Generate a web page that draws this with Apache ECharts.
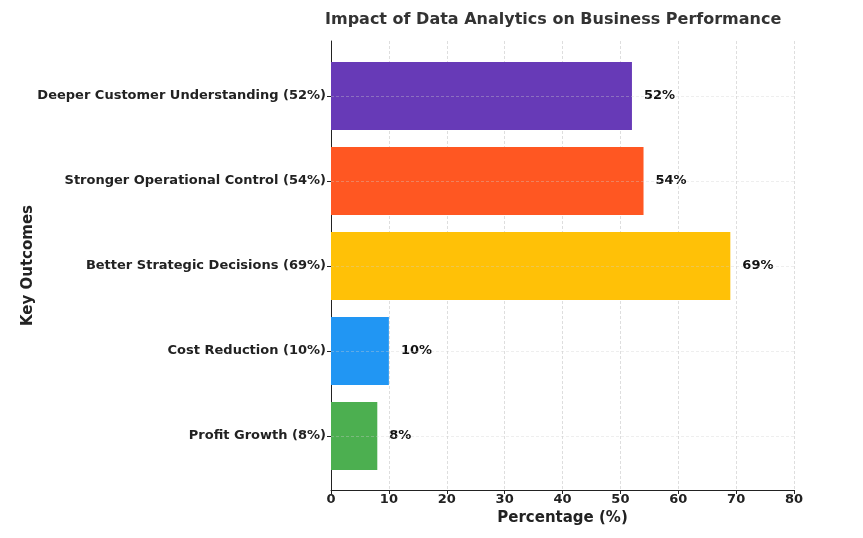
<!DOCTYPE html>
<html>
<head>
<meta charset="utf-8">
<script src="https://cdn.jsdelivr.net/npm/echarts@6/dist/echarts.min.js"></script>
<style>
html,body{margin:0;padding:0;background:#fff;}
#chart{width:863px;height:538px;}
</style>
</head>
<body>
<div id="chart"></div>
<script>
const categories = ['Profit Growth (8%)', 'Cost Reduction (10%)', 'Better Strategic Decisions (69%)', 'Stronger Operational Control (54%)', 'Deeper Customer Understanding (52%)'];
const values = [8, 10, 69, 54, 52];
const barColors = ['#4CAF50', '#2196F3', '#FFC107', '#FF5722', '#673AB7'];
const xMin = 0, xMax = 80, xStep = 10;

const FONT = '"DejaVu Sans", sans-serif';
const chart = echarts.init(document.getElementById('chart'), null, {renderer: 'canvas'});

const option = {
  backgroundColor: '#ffffff',
  animation: false,
  title: {
    text: 'Impact of Data Analytics on Business Performance',
    left: 320, top: 7,
    textStyle: {fontFamily: FONT, fontSize: 16, fontWeight: 'bold', color: '#333333'}
  },
  grid: [
    {left: 331, right: 69, top: 41, bottom: 48, containLabel: false},
    {left: 331, right: 69, top: 53.5, bottom: 59.5, containLabel: false}
  ],
  xAxis: [
    {
      gridIndex: 0, type: 'value', min: xMin, max: xMax, interval: xStep,
      name: 'Percentage (%)', nameLocation: 'middle', nameGap: 20,
      nameTextStyle: {fontFamily: FONT, fontSize: 15, fontWeight: 'bold', color: '#222222'},
      axisLine: {show: true, lineStyle: {color: '#222222', width: 1}},
      axisTick: {show: true, length: 4, lineStyle: {color: '#222222'}},
      axisLabel: {margin: 3, fontFamily: FONT, fontSize: 13, fontWeight: 'bold', color: '#222222'},
      splitLine: {show: true, lineStyle: {color: '#d6d6d6', type: [3, 2], width: 0.8}}
    },
    {
      gridIndex: 1, type: 'value', min: xMin, max: xMax,
      show: false
    }
  ],
  yAxis: [
    {
      gridIndex: 0, type: 'value', min: 0, max: 1,
      name: 'Key Outcomes', nameLocation: 'middle', nameGap: 295, nameRotate: 90,
      nameTextStyle: {fontFamily: FONT, fontSize: 15, fontWeight: 'bold', color: '#222222'},
      axisLine: {show: true, lineStyle: {color: '#222222', width: 1}},
      axisTick: {show: false}, axisLabel: {show: false}, splitLine: {show: false}
    },
    {
      gridIndex: 1, type: 'category', data: categories,
      axisLine: {show: false},
      axisTick: {show: true, alignWithLabel: true, length: 4, lineStyle: {color: '#222222'}},
      axisLabel: {margin: 5, fontFamily: FONT, fontSize: 13, fontWeight: 'bold', color: '#222222'},
      splitLine: {show: false}
    }
  ],
  series: [
    {
      type: 'bar', xAxisIndex: 1, yAxisIndex: 1,
      barWidth: '80%',
      data: values.map((v, i) => ({value: v, itemStyle: {color: barColors[i]}})),
      label: {
        show: true, position: 'right', distance: 12,
        formatter: p => p.value + '%',
        fontFamily: FONT, fontSize: 13, fontWeight: 'bold', color: '#111111'
      },
      markLine: {
        silent: true, symbol: 'none', label: {show: false},
        lineStyle: {color: '#d0d0d0', type: [3, 2], width: 0.8, opacity: 0.45},
        data: categories.map(c => ({yAxis: c}))
      }
    }
  ]
};
chart.setOption(option);
</script>
</body>
</html>
